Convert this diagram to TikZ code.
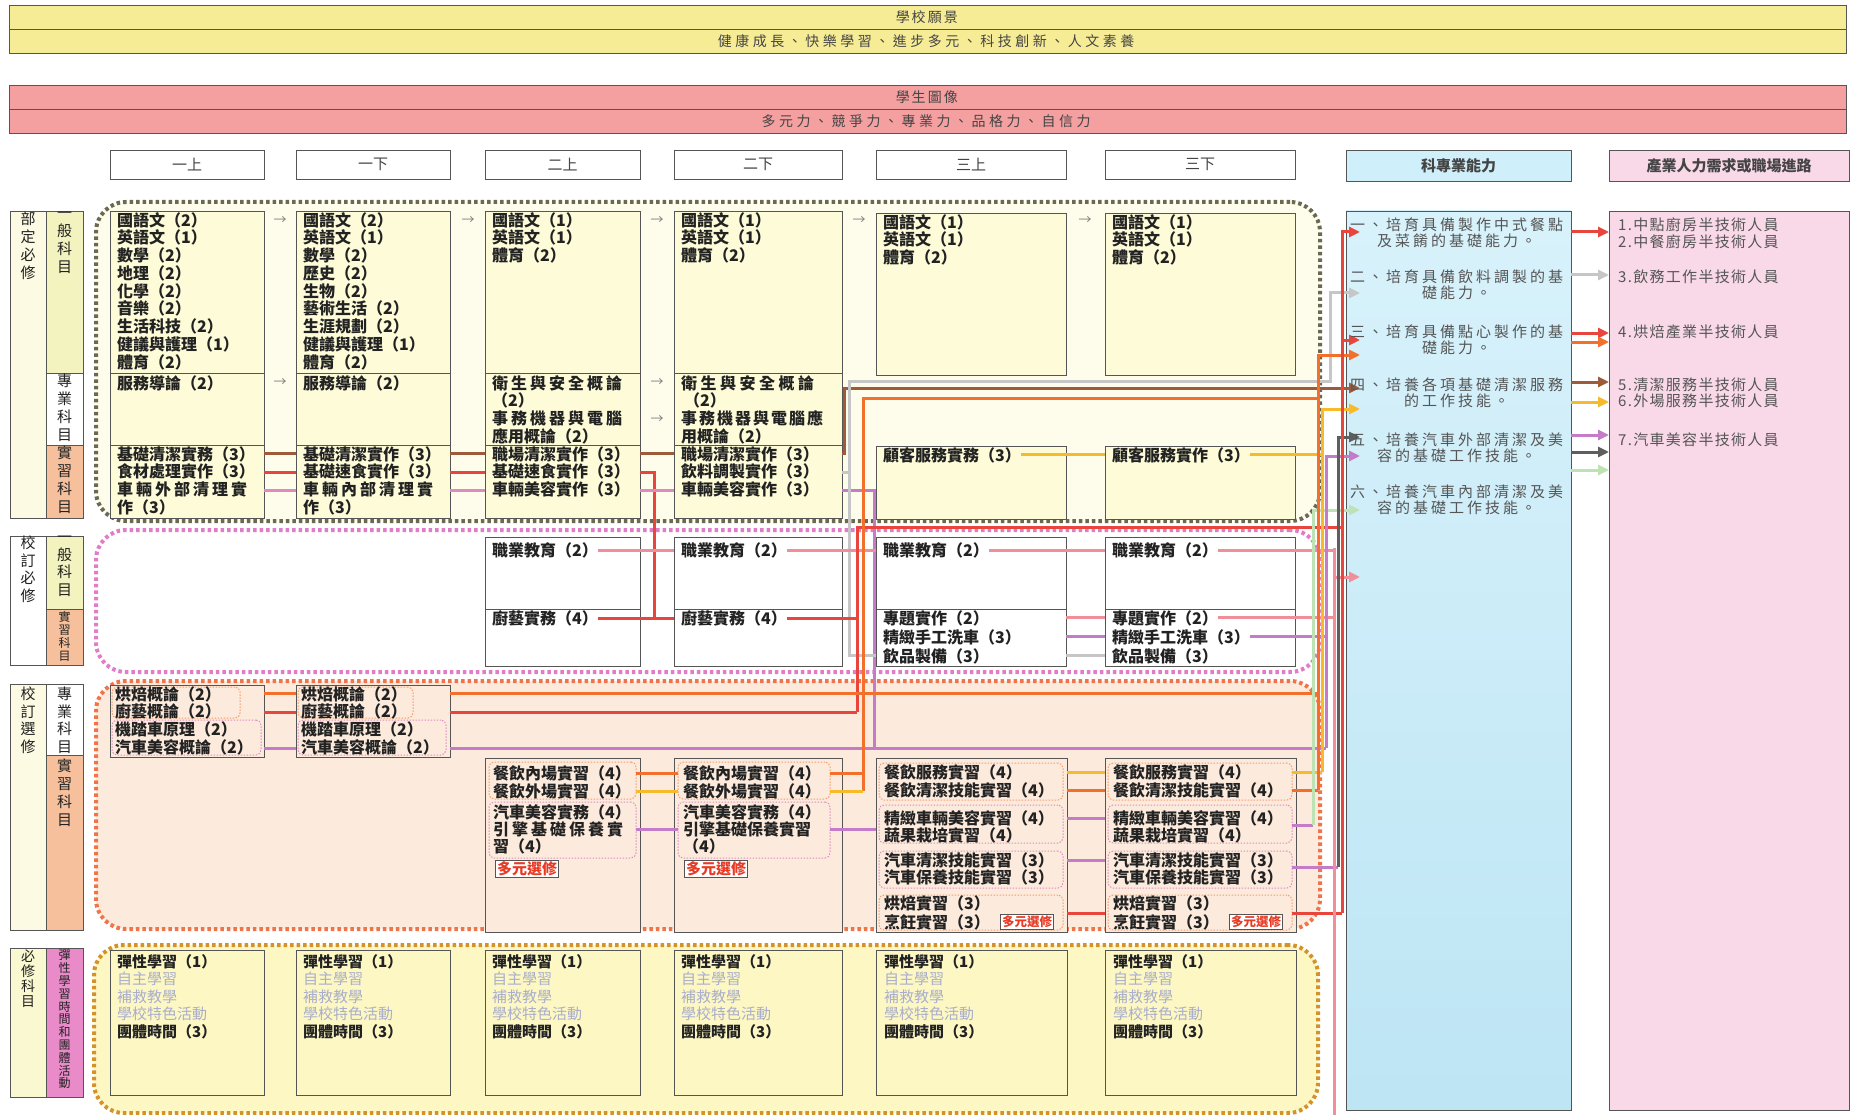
\documentclass[tikz,border=0pt]{standalone}
\usepackage{fontspec}
\setmainfont{Noto Sans CJK TC}
\usetikzlibrary{arrows.meta}
\makeatletter
\def\spc#1#2{\def\spc@gap{\kern#1pt}\spc@a#2\spc@end}
\def\spc@a#1{\ifx#1\spc@end\else#1\spc@gap\expandafter\spc@a\fi}
\makeatother
\newcommand\myfs[2]{\fontsize{#1}{#2}\selectfont}
\newcommand\rbox[7][]{\node[draw=bdr,line width=0.8pt,inner sep=0pt,outer sep=0pt,anchor=north west,minimum width={#5-#3},minimum height={#6-#4},#1] (#2) at (#3,#4) {#7};}
\definecolor{ink}{HTML}{222222}
\definecolor{bdr}{HTML}{555555}
\definecolor{btxt}{HTML}{444444}
\definecolor{hdtxt}{HTML}{444444}
\definecolor{abtxt}{HTML}{555555}
\definecolor{bandY}{HTML}{F7EC96}
\definecolor{bandP}{HTML}{F4A0A0}
\definecolor{lyel}{HTML}{FEFCD8}
\definecolor{regGf}{HTML}{FEFDEC}
\definecolor{regGd}{HTML}{6B6A50}
\definecolor{regPd}{HTML}{E07CC8}
\definecolor{regOd}{HTML}{F0744A}
\definecolor{regOf}{HTML}{FCEBDD}
\definecolor{regBd}{HTML}{D4922A}
\definecolor{regBf}{HTML}{FDF7C4}
\definecolor{abilT}{HTML}{D8F2FB}
\definecolor{abilB}{HTML}{BDE5F4}
\definecolor{abil}{HTML}{CFEFFA}
\definecolor{care}{HTML}{F9D8E8}
\definecolor{cRed}{HTML}{E8453C}
\definecolor{cOrg}{HTML}{F2702C}
\definecolor{cYel}{HTML}{F6BA2A}
\definecolor{cBrn}{HTML}{9E5B3C}
\definecolor{cLgy}{HTML}{C6C6C6}
\definecolor{cDgy}{HTML}{5E5E5E}
\definecolor{cVio}{HTML}{C47BC8}
\definecolor{cPnk}{HTML}{DE8CC0}
\definecolor{cSal}{HTML}{F08E9A}
\definecolor{cGrn}{HTML}{BDE3B5}
\definecolor{labY}{HTML}{F2F3BE}
\definecolor{labS}{HTML}{F6C09C}
\definecolor{labM}{HTML}{E98AC9}
\definecolor{labC}{HTML}{FCFAE2}
\definecolor{labY2}{HTML}{FAF8D0}
\definecolor{soft}{HTML}{A8AECB}
\definecolor{dyred}{HTML}{E83A24}
\begin{document}
\begin{tikzpicture}[x=1pt,y=-1pt,
  ct/.style={inner sep=0pt,anchor=north west,align=left,text=ink,font=\myfs{16}{17.75}\bfseries},
  ct2/.style={inner sep=0pt,anchor=north west,align=left,text=ink,font=\myfs{15}{17.5}},
  vl/.style={inner sep=0pt,anchor=north,align=center,text=ink,font=\myfs{15}{18}},
  hd/.style={font=\myfs{15}{18},text=hdtxt},
  abt/.style={inner sep=0pt,anchor=north,align=center,text=abtxt,font=\myfs{15}{16.5}},
  crt/.style={inner sep=0pt,anchor=north west,align=left,text=abtxt,font=\myfs{15}{16.5}},
  lnk/.style={line width=3pt},
  arw/.style={-{Triangle[length=11pt,width=10pt]}},
  reg/.style={line width=4pt,dash pattern=on 3.5pt off 3pt,rounded corners=30pt},
  subO/.style={draw=cOrg!70,line width=1pt,dash pattern=on 1.5pt off 1.5pt,rounded corners=5pt},
  subP/.style={draw=cPnk,line width=1pt,dash pattern=on 1.5pt off 1.5pt,rounded corners=5pt},
  dy/.style={draw=bdr,line width=1pt,fill=white,text=dyred,inner sep=1.5pt,anchor=north west,font=\myfs{15}{16}\bfseries},
  dys/.style={draw=bdr,line width=1pt,fill=white,text=dyred,inner sep=1.5pt,anchor=north west,font=\myfs{12.5}{13}\bfseries},
  arrg/.style={text=gray,font=\myfs{13}{14},inner sep=0pt}]
\useasboundingbox (0,0) rectangle (1858,1115);
\fill[white] (0,0) rectangle (1858,1115);

% ---------- bands
\rbox[fill=bandY,font=\myfs{14}{16},text=btxt]{V1}{9.5}{5}{1846}{29}{\spc{2}{學校願景}}
\rbox[fill=bandY,font=\myfs{14}{16},text=btxt]{V2}{9.5}{29}{1846}{53}{\spc{3.5}{健康成長、快樂學習、進步多元、科技創新、人文素養}}
\rbox[fill=bandP,font=\myfs{14}{16},text=btxt]{S1}{9.5}{85}{1846}{109}{\spc{2}{學生圖像}}
\rbox[fill=bandP,font=\myfs{14}{16},text=btxt]{S2}{9.5}{109}{1846}{133}{\spc{3.5}{多元力、競爭力、專業力、品格力、自信力}}

% ---------- headers
\rbox[hd]{H1}{110}{150}{264}{179}{一上}
\rbox[hd]{H2}{296}{150}{450}{179}{一下}
\rbox[hd]{H3}{485}{150}{640}{179}{二上}
\rbox[hd]{H4}{674}{150}{842}{179}{二下}
\rbox[hd]{H5}{876}{150}{1066}{179}{三上}
\rbox[hd]{H6}{1105}{150}{1295}{179}{三下}
\rbox[hd,fill=abil,font=\myfs{15}{18}\bfseries]{H7}{1346}{150}{1571}{181}{科專業能力}
\rbox[hd,fill=care,font=\myfs{15}{18}\bfseries]{H8}{1609}{150}{1849}{181}{產業人力需求或職場進路}

% ---------- regions
\rbox[reg,draw=regGd,fill=regGf]{RG}{96}{202}{1320}{521}{}
\rbox[reg,draw=regPd,fill=white]{RP}{96}{530}{1320}{672}{}
\rbox[reg,draw=regOd,fill=regOf]{RO}{96}{681}{1320}{929}{}
\rbox[reg,draw=regBd,fill=regBf]{RB}{94}{945}{1318}{1113}{}

% ---------- ability / career columns
\rbox[top color=abilT,bottom color=abilB]{AB}{1346}{211}{1571}{1110}{}
\rbox[fill=care]{CR}{1609}{211}{1849}{1110}{}

% ---------- left labels
\rbox[fill=labC]{L1}{10}{211}{46}{518}{}
\rbox[fill=labY]{L1a}{46}{211}{83}{373}{}
\rbox[fill=white]{L1b}{46}{373}{83}{445}{}
\rbox[fill=labS]{L1c}{46}{445}{83}{518}{}
\node[vl] (t1) at (28,212) {部\\定\\必\\修};
\node[vl] (t1a) at (64.5,212) {一\\般\\科\\目};
\node[vl] (t1b) at (64.5,374) {專\\業\\科\\目};
\node[vl] (t1c) at (64.5,446) {實\\習\\科\\目};

\rbox[fill=white]{L2}{10}{536}{46}{665}{}
\rbox[fill=labY]{L2a}{46}{536}{83}{609}{}
\rbox[fill=labS]{L2b}{46}{609}{83}{665}{}
\node[vl,font=\myfs{15}{17.5}] (t2) at (28,536) {校\\訂\\必\\修};
\node[vl,font=\myfs{15}{17.5}] (t2a) at (64.5,536) {一\\般\\科\\目};
\node[vl,font=\myfs{12}{13.2}] (t2b) at (64.5,611) {實\\習\\科\\目};

\rbox[fill=labC]{L3}{10}{684}{46}{930}{}
\rbox[fill=white]{L3a}{46}{684}{83}{755}{}
\rbox[fill=labS]{L3b}{46}{755}{83}{930}{}
\node[vl,font=\myfs{15}{17.5}] (t3) at (28,687) {校\\訂\\選\\修};
\node[vl,font=\myfs{15}{17.5}] (t3a) at (64.5,687) {專\\業\\科\\目};
\node[vl] (t3b) at (64.5,759) {實\\習\\科\\目};

\rbox[fill=labY2]{L4}{10}{948}{46}{1097}{}
\rbox[fill=labM]{L4a}{46}{948}{83}{1097}{}
\node[vl,font=\myfs{14}{15}] (t4) at (28,950) {必\\修\\科\\目};
\node[vl,font=\myfs{12}{12.8}] (t4a) at (64.5,950) {彈\\性\\學\\習\\時\\間\\和\\團\\體\\活\\動};

% ---------- top block boxes
\rbox[fill=lyel]{g1}{110}{211}{264}{373}{}
\rbox[fill=lyel]{p1}{110}{373}{264}{445}{}
\rbox[fill=lyel]{r1}{110}{445}{264}{518}{}
\rbox[fill=lyel]{g2}{296}{211}{450}{373}{}
\rbox[fill=lyel]{p2}{296}{373}{450}{445}{}
\rbox[fill=lyel]{r2}{296}{445}{450}{518}{}
\rbox[fill=lyel]{g3}{485}{211}{640}{373}{}
\rbox[fill=lyel]{p3}{485}{373}{640}{445}{}
\rbox[fill=lyel]{r3}{485}{445}{640}{518}{}
\rbox[fill=lyel]{g4}{674}{211}{842}{373}{}
\rbox[fill=lyel]{p4}{674}{373}{842}{445}{}
\rbox[fill=lyel]{r4}{674}{445}{842}{518}{}
\rbox[fill=lyel]{g5}{876}{213}{1066}{375}{}
\rbox[fill=lyel]{r5}{876}{446}{1066}{519}{}
\rbox[fill=lyel]{g6}{1105}{213}{1295}{375}{}
\rbox[fill=lyel]{r6}{1105}{446}{1295}{519}{}

% ---------- school required boxes
\rbox[fill=white]{sg3}{485}{537}{640}{609}{}
\rbox[fill=white]{sp3}{485}{609}{640}{666}{}
\rbox[fill=white]{sg4}{674}{537}{842}{609}{}
\rbox[fill=white]{sp4}{674}{609}{842}{666}{}
\rbox[fill=white]{sg5}{876}{537}{1066}{609}{}
\rbox[fill=white]{sp5}{876}{609}{1066}{666}{}
\rbox[fill=white]{sg6}{1105}{537}{1295}{609}{}
\rbox[fill=white]{sp6}{1105}{609}{1295}{666}{}

% ---------- elective boxes
\rbox[fill=regOf]{e1}{110}{685}{264}{757}{}
\rbox[fill=regOf]{e2}{296}{685}{450}{757}{}
\rbox[subO]{e1a}{112}{687}{240}{718}{}
\rbox[subP]{e1b}{112}{720}{261}{755}{}
\rbox[subO]{e2a}{298}{687}{413}{718}{}
\rbox[subP]{e2b}{298}{720}{446}{755}{}
\rbox[fill=regOf]{x3}{485}{758}{640}{932}{}
\rbox[fill=regOf]{x4}{674}{758}{842}{932}{}
\rbox[fill=regOf]{x5}{876}{758}{1067}{932}{}
\rbox[fill=regOf]{x6}{1105}{758}{1296}{932}{}
\rbox[subO]{s3a}{489}{762}{636}{799}{}
\rbox[subP]{s3b}{489}{802}{636}{858}{}
\rbox[subO]{s4a}{678}{762}{830}{799}{}
\rbox[subP]{s4b}{678}{802}{830}{858}{}
\rbox[subO]{s5a}{879}{763}{1063}{800}{}
\rbox[subP]{s5b}{879}{805}{1063}{843}{}
\rbox[subP]{s5c}{879}{851}{1063}{888}{}
\rbox[subO]{s5d}{879}{895}{1063}{930}{}
\rbox[subO]{s6a}{1108}{763}{1292}{800}{}
\rbox[subP]{s6b}{1108}{805}{1292}{843}{}
\rbox[subP]{s6c}{1108}{851}{1292}{888}{}
\rbox[subO]{s6d}{1108}{895}{1292}{930}{}

% ---------- bottom boxes
\rbox[fill=regBf]{b1}{110}{950}{264}{1095}{}
\rbox[fill=regBf]{b2}{296}{950}{450}{1095}{}
\rbox[fill=regBf]{b3}{485}{950}{640}{1095}{}
\rbox[fill=regBf]{b4}{674}{950}{842}{1095}{}
\rbox[fill=regBf]{b5}{876}{950}{1067}{1095}{}
\rbox[fill=regBf]{b6}{1105}{950}{1296}{1095}{}

% ---------- texts (nodes needed by connectors)
\node[ct] (tr5) at (883,447) {顧客服務實務（3）};
\node[ct] (tr6) at (1112,447) {顧客服務實作（3）};
\node[ct] (ts3) at (492,542) {職業教育（2）};
\node[ct] (ts4) at (681,542) {職業教育（2）};
\node[ct] (ts5) at (883,542) {職業教育（2）};
\node[ct] (ts6) at (1112,542) {職業教育（2）};
\node[ct] (tk3) at (492,610) {廚藝實務（4）};
\node[ct] (tk4) at (681,610) {廚藝實務（4）};
\node[ct] (tk5a) at (883,610) {專題實作（2）};
\node[ct] (tk5b) at (883,629) {精緻手工洗車（3）};
\node[ct] (tk5c) at (883,648) {飲品製備（3）};
\node[ct] (tk6a) at (1112,610) {專題實作（2）};
\node[ct] (tk6b) at (1112,629) {精緻手工洗車（3）};
\node[ct] (tk6c) at (1112,648) {飲品製備（3）};

% ---------- connectors
\coordinate (y1) at (0,453); \coordinate (y2) at (0,472); \coordinate (y3) at (0,490);
\coordinate (brA) at (844,453); \coordinate (brB) at (844,388);
\coordinate (rdA) at (654,472);
\coordinate (viA) at (874,490); \coordinate (viB) at (874,748);
\coordinate (gyA) at (849,472); \coordinate (gyB) at (849,381); \coordinate (gyL) at (1330,381); \coordinate (gyT) at (1330,293);
\coordinate (ylT) at (1322,409); \coordinate (ylB) at (1322,772);
\coordinate (slT) at (1334,548); \coordinate (slB) at (1334,1115); \coordinate (slA) at (1334,577);
\coordinate (rkA) at (857,527); \coordinate (rkB) at (857,712);
\coordinate (rdT) at (1342,232); \coordinate (rdM) at (1342,340); \coordinate (rdB) at (1342,913);
\coordinate (vlT) at (1326,456); \coordinate (vlB) at (1326,748);
\coordinate (orT) at (1318,355); \coordinate (orB) at (1318,790); \coordinate (orA) at (863,398); \coordinate (orC) at (863,791);
\coordinate (lgT) at (1313,510); \coordinate (lgB) at (1313,825);
\coordinate (dgT) at (1338,437); \coordinate (dgB) at (1338,867);
\coordinate (yO) at (0,693); \coordinate (yK) at (0,712); \coordinate (yV) at (0,748);
\coordinate (yP1) at (0,773); \coordinate (yP2) at (0,791); \coordinate (yP3) at (0,829);
\coordinate (yQ1) at (0,772); \coordinate (yQ2) at (0,790); \coordinate (yQ3) at (0,818); \coordinate (yQ4) at (0,860); \coordinate (yQ5) at (0,913);
\coordinate (yX3) at (0,825); \coordinate (yX4) at (0,867);

% top practice rows
\draw[lnk,cBrn] (r1.east|-y1) -- (r2.west|-y1);
\draw[lnk,cBrn] (r2.east|-y1) -- (r3.west|-y1);
\draw[lnk,cBrn] (r3.east|-y1) -- (r4.west|-y1);
\draw[lnk,cBrn,arw] (r4.east|-y1) -- (brA) -- (brB) -- (AB.west|-brB) -- ++(14,0);
\draw[lnk,cRed] (r1.east|-y2) -- (r2.west|-y2);
\draw[lnk,cRed] (r2.east|-y2) -- (r3.west|-y2);
\draw[lnk,cRed] (r3.east|-y2) -- (rdA) -- (rdA|-tk3.east);
\draw[lnk,cPnk] (r1.east|-y3) -- (r2.west|-y3);
\draw[lnk,cPnk] (r2.east|-y3) -- (r3.west|-y3);
\draw[lnk,cPnk] (r3.east|-y3) -- (r4.west|-y3);
\draw[lnk,cVio] (r4.east|-y3) -- (viA) -- (viB);
\draw[lnk,cLgy,arw] (r4.east|-y2) -- (gyA) -- (gyB) -- (gyL) -- (gyT) -- (AB.west|-gyT) -- ++(14,0);
\draw[lnk,cLgy] (gyA) -- (gyA|-tk5c.west) -- (sp5.west|-tk5c.west);
\draw[lnk,cLgy] (sp5.east|-tk5c.west) -- (sp6.west|-tk5c.west);
\draw[lnk,cYel] (tr5.east) -- (r6.west|-tr5.east);
\draw[lnk,cYel] (tr6.east) -- (tr6.east-|ylT);
% school required
\draw[lnk,cSal] (ts3.east) -- (sg4.west|-ts3.east);
\draw[lnk,cSal] (ts4.east) -- (sg5.west|-ts4.east);
\draw[lnk,cSal] (ts5.east) -- (sg6.west|-ts5.east);
\draw[lnk,cSal] (ts6.east) -- (ts6.east-|slT);
\draw[lnk,cRed] (tk3.east) -- (sp4.west|-tk3.east);
\draw[lnk,cRed] (tk4.east) -- (tk4.east-|rkA);
\draw[lnk,cRed] (rkB) -- (rkA) -- (rkA-|rdT);
\draw[lnk,cSal] (sp5.east|-tk5a.west) -- (sp6.west|-tk5a.west);
\draw[lnk,cSal] (tk6a.east) -- (tk6a.east-|slT);
\draw[lnk,cVio] (sp5.east|-tk5b.west) -- (sp6.west|-tk5b.west);
\draw[lnk,cVio] (tk6b.east) -- (tk6b.east-|vlT);
% elective professional
\draw[lnk,cOrg] (e1.east|-yO) -- (e2.west|-yO);
\draw[lnk,cOrg] (e2.east|-yO) -- (orT|-yO);
\draw[lnk,cRed] (e1.east|-yK) -- (e2.west|-yK);
\draw[lnk,cRed] (e2.east|-yK) -- (rkB);
\draw[lnk,cVio] (e1.east|-yV) -- (e2.west|-yV);
\draw[lnk,cVio] (e2.east|-yV) -- (vlB);
% elective practice
\draw[lnk,cOrg] (s3a.east|-yP1) -- (s4a.west|-yP1);
\draw[lnk,cOrg] (s4a.east|-yP1) -- (orC|-yP1);
\draw[lnk,cOrg] (orC) -- (orA) -- (orA-|orT);
\draw[lnk,cYel] (s3a.east|-yP2) -- (s4a.west|-yP2);
\draw[lnk,cYel] (s4a.east|-yP2) -- (orC);
\draw[lnk,cVio] (s3b.east|-yP3) -- (s4b.west|-yP3);
\draw[lnk,cVio] (s4b.east|-yP3) -- (x5.west|-yP3);
\draw[lnk,cYel] (x5.east|-yQ1) -- (x6.west|-yQ1);
\draw[lnk,cOrg] (x5.east|-yQ2) -- (x6.west|-yQ2);
\draw[lnk,cVio] (x5.east|-yQ3) -- (x6.west|-yQ3);
\draw[lnk,cVio] (x5.east|-yQ4) -- (x6.west|-yQ4);
\draw[lnk,cRed] (x5.east|-yQ5) -- (x6.west|-yQ5);
\draw[lnk,cYel] (s6a.east|-yQ1) -- (ylB);
\draw[lnk,cOrg] (s6a.east|-yQ2) -- (orB);
\draw[lnk,cVio] (s6b.east|-yX3) -- (lgB);
\draw[lnk,cVio] (s6c.east|-yX4) -- (dgB);
\draw[lnk,cRed] (s6d.east|-yQ5) -- (rdB);
% lanes into ability column
\draw[lnk,cGrn,arw] (lgB) -- (lgT) -- (AB.west|-lgT) -- ++(14,0);
\draw[lnk,cOrg,arw] (orB) -- (orT) -- (AB.west|-orT) -- ++(14,0);
\draw[lnk,cYel,arw] (ylB) -- (ylT) -- (AB.west|-ylT) -- ++(14,0);
\draw[lnk,cVio,arw] (vlB) -- (vlT) -- (AB.west|-vlT) -- ++(14,0);
\draw[lnk,cSal] (slT) -- (slB);
\draw[lnk,cSal,arw] (slA) -- (AB.west|-slA) -- ++(14,0);
\draw[lnk,cDgy,arw] (dgB) -- (dgT) -- (AB.west|-dgT) -- ++(14,0);
\draw[lnk,cRed,arw] (rdB) -- (rdT) -- (AB.west|-rdT) -- ++(14,0);
\draw[lnk,cRed,arw] (rdM) -- (AB.west|-rdM) -- ++(14,0);
% ability -> careers
\foreach \yy/\cc in {232/cRed,275/cLgy,333/cRed,342/cOrg,382/cBrn,402/cYel,435/cVio,452/cDgy,470/cGrn}{
  \coordinate (cy) at (0,\yy);
  \draw[lnk,\cc,arw] (AB.east|-cy) -- (CR.west|-cy);
}

% ---------- remaining texts
\node[ct] (tg1) at (117,212) {國語文（2）\\英語文（1）\\數學（2）\\地理（2）\\化學（2）\\音樂（2）\\生活科技（2）\\健議與護理（1）\\體育（2）};
\node[ct] (tg2) at (303,212) {國語文（2）\\英語文（1）\\數學（2）\\歷史（2）\\生物（2）\\藝術生活（2）\\生涯規劃（2）\\健議與護理（1）\\體育（2）};
\node[ct] (tg3) at (492,212) {國語文（1）\\英語文（1）\\體育（2）};
\node[ct] (tg4) at (681,212) {國語文（1）\\英語文（1）\\體育（2）};
\node[ct] (tg5) at (883,214) {國語文（1）\\英語文（1）\\體育（2）};
\node[ct] (tg6) at (1112,214) {國語文（1）\\英語文（1）\\體育（2）};
\node[ct] (tp1) at (117,375) {服務導論（2）};
\node[ct] (tp2) at (303,375) {服務導論（2）};
\node[ct] (tp3) at (492,375) {\spc{3}{衛生與安全概論}\\（2）\\\spc{3}{事務機器與電腦}\\應用概論（2）};
\node[ct] (tp4) at (681,375) {\spc{3.5}{衛生與安全概論}\\\hspace*{3pt}（2）\\\spc{2}{事務機器與電腦應}\\用概論（2）};
\node[ct] (tr1) at (117,446) {基礎清潔實務（3）\\食材處理實作（3）\\\spc{3}{車輛外部清理實}\\作（3）};
\node[ct] (tr2) at (303,446) {基礎清潔實作（3）\\基礎速食實作（3）\\\spc{3}{車輛內部清理實}\\作（3）};
\node[ct] (tr3) at (492,446) {職場清潔實作（3）\\基礎速食實作（3）\\車輛美容實作（3）};
\node[ct] (tr4) at (681,446) {職場清潔實作（3）\\飲料調製實作（3）\\車輛美容實作（3）};
\node[ct] (te1) at (115,686) {烘焙概論（2）\\廚藝概論（2）\\機踏車原理（2）\\汽車美容概論（2）};
\node[ct] (te2) at (301,686) {烘焙概論（2）\\廚藝概論（2）\\機踏車原理（2）\\汽車美容概論（2）};
\node[ct,font=\myfs{16}{18}\bfseries] (tx3a) at (493,765) {餐飲內場實習（4）\\餐飲外場實習（4）};
\node[ct,font=\myfs{16}{17}\bfseries] (tx3b) at (493,804) {汽車美容實務（4）\\\spc{3}{引擎基礎保養實}\\習（4）};
\node[dy] (m3) at (495,860) {多元選修};
\node[ct,font=\myfs{16}{18}\bfseries] (tx4a) at (683,765) {餐飲內場實習（4）\\餐飲外場實習（4）};
\node[ct,font=\myfs{16}{17}\bfseries] (tx4b) at (683,804) {汽車美容實務（4）\\引擎基礎保養實習\\（4）};
\node[dy] (m4) at (684,860) {多元選修};
\node[ct,font=\myfs{16}{18}\bfseries] (tx5a) at (884,764) {餐飲服務實習（4）\\餐飲清潔技能實習（4）};
\node[ct,font=\myfs{16}{17}\bfseries] (tx5b) at (884,810) {精緻車輛美容實習（4）\\蔬果栽培實習（4）};
\node[ct,font=\myfs{16}{17}\bfseries] (tx5c) at (884,852) {汽車清潔技能實習（3）\\汽車保養技能實習（3）};
\node[ct,font=\myfs{16}{19}\bfseries] (tx5d) at (884,895) {烘焙實習（3）\\烹飪實習（3）};
\node[dys] (m5) at (1000,914) {多元選修};
\node[ct,font=\myfs{16}{18}\bfseries] (tx6a) at (1113,764) {餐飲服務實習（4）\\餐飲清潔技能實習（4）};
\node[ct,font=\myfs{16}{17}\bfseries] (tx6b) at (1113,810) {精緻車輛美容實習（4）\\蔬果栽培實習（4）};
\node[ct,font=\myfs{16}{17}\bfseries] (tx6c) at (1113,852) {汽車清潔技能實習（3）\\汽車保養技能實習（3）};
\node[ct,font=\myfs{16}{19}\bfseries] (tx6d) at (1113,895) {烘焙實習（3）\\烹飪實習（3）};
\node[dys] (m6) at (1229,914) {多元選修};
\foreach \bx/\xx in {1/117,2/303,3/492,4/681,5/884,6/1113}{
  \node[ct2] (tb\bx) at (\xx,954) {{\bfseries 彈性學習（1）}\\{\color{soft}自主學習}\\{\color{soft}補救教學}\\{\color{soft}學校特色活動}\\{\bfseries 團體時間（3）}};
}
% arrows glyphs
\node[arrg] (ar1) at (280,221) {→};
\node[arrg] (ar2) at (468,221) {→};
\node[arrg] (ar3) at (657,221) {→};
\node[arrg] (ar4) at (859,221) {→};
\node[arrg] (ar5) at (1085,221) {→};
\node[arrg] (ar6) at (280,383) {→};
\node[arrg] (ar7) at (657,383) {→};
\node[arrg] (ar8) at (657,420) {→};

% ability texts
\node[abt] (ab1) at (1458,217.5) {\spc{3}{一、培育具備製作中式餐點}\\\spc{3}{及菜餚的基礎能力。}};
\node[abt] (ab2) at (1458,269.5) {\spc{3}{二、培育具備飲料調製的基}\\\spc{3}{礎能力。}};
\node[abt] (ab3) at (1458,324.5) {\spc{3}{三、培育具備點心製作的基}\\\spc{3}{礎能力。}};
\node[abt] (ab4) at (1458,377.5) {\spc{3}{四、培養各項基礎清潔服務}\\\spc{3}{的工作技能。}};
\node[abt] (ab5) at (1458,432.5) {\spc{3}{五、培養汽車外部清潔及美}\\\spc{3}{容的基礎工作技能。}};
\node[abt] (ab6) at (1458,484.5) {\spc{3}{六、培養汽車內部清潔及美}\\\spc{3}{容的基礎工作技能。}};
% career texts
\node[crt] (cr1) at (1618,217.5) {\spc{1.3}{1.中點廚房半技術人員}\\\spc{1.3}{2.中餐廚房半技術人員}};
\node[crt] (cr2) at (1618,269.5) {\spc{1.3}{3.飲務工作半技術人員}};
\node[crt] (cr3) at (1618,324.5) {\spc{1.3}{4.烘焙產業半技術人員}};
\node[crt] (cr4) at (1618,377.5) {\spc{1.3}{5.清潔服務半技術人員}\\\spc{1.3}{6.外場服務半技術人員}};
\node[crt] (cr5) at (1618,432.5) {\spc{1.3}{7.汽車美容半技術人員}};
\end{tikzpicture}
\end{document}
